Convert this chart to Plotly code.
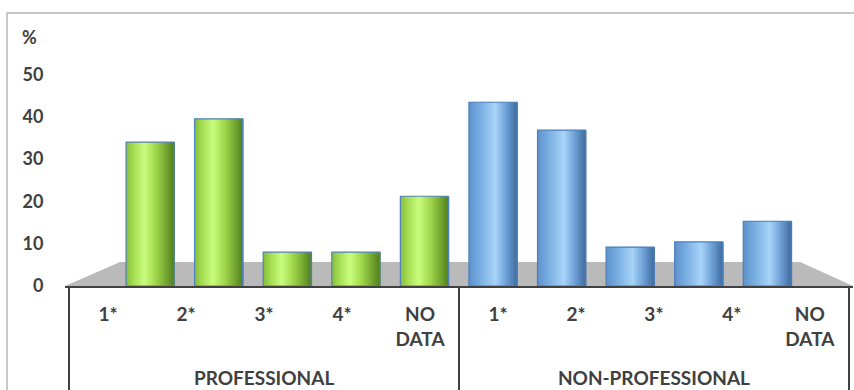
import plotly.graph_objects as go

# ---- data ----
categories = ["1*", "2*", "3*", "4*", "NO<br>DATA"]
groups = ["PROFESSIONAL", "NON-PROFESSIONAL"]
professional = [34, 39.5, 8, 8, 21.2]
non_professional = [43.4, 36.8, 9.2, 10.4, 15.3]
y_ticks = [0, 10, 20, 30, 40, 50]

FONT = "Lato"
TXT = "#404040"

def hex2rgb(h):
    h = h.lstrip("#")
    return [int(h[i:i + 2], 16) for i in (0, 2, 4)]

def profile_color(stops, t):
    for (t0, c0), (t1, c1) in zip(stops[:-1], stops[1:]):
        if t0 <= t <= t1:
            f = (t - t0) / (t1 - t0) if t1 > t0 else 0
            a, b = hex2rgb(c0), hex2rgb(c1)
            return "rgb(%d,%d,%d)" % tuple(round(a[i] + (b[i] - a[i]) * f) for i in range(3))
    return stops[-1][1]

green_stops = [(0.0, "#86bd3a"), (0.15, "#a4dc52"), (0.38, "#cafd7e"),
               (0.62, "#a0d84c"), (0.82, "#78ab33"), (1.0, "#527f1e")]
blue_stops = [(0.0, "#5f92cb"), (0.2, "#74aadf"), (0.55, "#a8d4f8"),
              (0.78, "#6c9fd6"), (1.0, "#416c9e")]

fig = go.Figure()

# invisible trace to build the two-level category axis
all_groups = [g for g in groups for _ in categories]
all_cats = [c + "<br> " for c in categories] * len(groups)
fig.add_trace(go.Scatter(
    x=[all_groups, all_cats], y=professional + non_professional,
    mode="markers", marker=dict(opacity=0), hoverinfo="skip", showlegend=False,
    xaxis="x", yaxis="y"))

n = len(categories)
positions_pro = list(range(n))
positions_non = list(range(n, 2 * n))
W = 0.70
N = 32

def add_cylinders(pos, vals, stops, outline):
    for k in range(N):
        t = (k + 0.5) / N
        fig.add_trace(go.Bar(
            x=pos, y=vals, width=W / N * 1.6, offset=-W / 2 + k * W / N,
            marker=dict(color=profile_color(stops, t), line=dict(width=0)),
            hoverinfo="skip", showlegend=False,
            xaxis="x2", yaxis="y"))
    fig.add_trace(go.Bar(
        x=pos, y=vals, width=W, offset=-W / 2,
        marker=dict(color="rgba(0,0,0,0)", line=dict(color=outline, width=1.2)),
        hoverinfo="skip", showlegend=False, xaxis="x2", yaxis="y"))

add_cylinders(positions_pro, professional, green_stops, "#4f81bd")
add_cylinders(positions_non, non_professional, blue_stops, "#4a7ebb")

fig.update_layout(
    width=854, height=390,
    margin=dict(l=65, r=1, t=32, b=104),
    paper_bgcolor="white", plot_bgcolor="white",
    barmode="overlay",
    font=dict(family=FONT, color=TXT, size=19, weight="bold"),
    xaxis=dict(
        type="multicategory", showline=True, linecolor="#404040", linewidth=2,
        showgrid=False, zeroline=False, showdividers=True,
        dividercolor="#404040", dividerwidth=2,
        tickfont=dict(family=FONT, size=19, color=TXT, weight="bold"),
        ticklabelstandoff=10,
        fixedrange=True),
    xaxis2=dict(overlaying="x", visible=False, range=[-1.24, 10.25],
                anchor="y", fixedrange=True),
    yaxis=dict(range=[0, 60], tickvals=y_ticks, showgrid=False, zeroline=False,
               showline=False, ticks="outside", ticklen=17,
               tickcolor="rgba(0,0,0,0)",
               tickfont=dict(family=FONT, size=18, color=TXT, weight="bold"),
               fixedrange=True),
    shapes=[
        # grey floor
        dict(type="path", xref="paper", yref="y", layer="below",
             path="M 0 0 L 0.0698 5.67 L 0.933 5.67 L 1 0 Z",
             fillcolor="#bababa", line=dict(width=0)),
        # chart-area border
        dict(type="rect", xref="paper", yref="paper",
             x0=-0.0736, x1=1.2, y0=-0.6, y1=1.0748,
             line=dict(color="#c8c8c8", width=2), fillcolor="rgba(0,0,0,0)",
             layer="below"),
    ],
    annotations=[
        dict(text="%", xref="paper", yref="paper", x=-0.057, y=0.98,
             xanchor="left", yanchor="middle", showarrow=False,
             font=dict(family=FONT, size=18, color=TXT, weight="bold")),
    ],
)

fig.write_html("out.html")
